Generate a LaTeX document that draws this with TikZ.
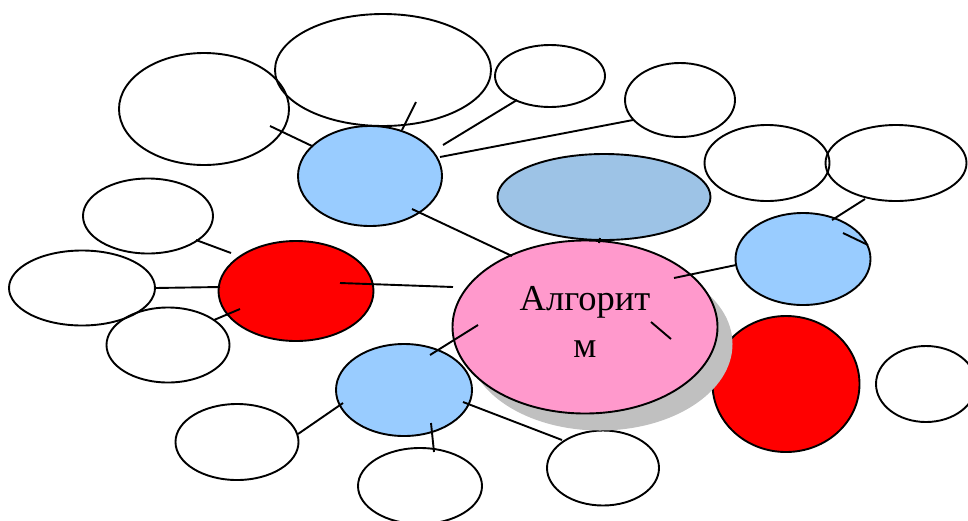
\documentclass[tikz,border=0pt]{standalone}
\usepackage{fontspec}
\setmainfont{Liberation Serif}
\usepackage{xcolor}
\usetikzlibrary{shapes.geometric,shadows,calc}
\definecolor{pinkfill}{HTML}{FF99CC}
\definecolor{bluefill}{HTML}{99CCFF}
\definecolor{greyblue}{HTML}{9DC3E6}
\definecolor{shadowgrey}{HTML}{C0C0C0}

\begin{document}
\begin{tikzpicture}[x=1pt,y=-1pt,line width=1.9pt,every node/.append style={align=center},oval/.style={ellipse, draw, inner sep=0pt},bluenode/.style={oval, fill=bluefill},rednode/.style={oval, fill=red},
  centre/.style={oval, fill=pinkfill, font=\fontsize{36.5}{47}\selectfont, drop shadow={shadow xshift=15pt, shadow yshift=-17pt, fill=shadowgrey, opacity=1}}]
    \useasboundingbox (0,0) rectangle (968,520);
    \node [oval, minimum width=170pt, minimum height=112pt] (tlbig) at (204,109) {};
    \node [oval, minimum width=216pt, minimum height=112pt] (tophuge) at (383,70) {};
    \node [oval, minimum width=110pt, minimum height=62pt] (topsm) at (550,76) {};
    \node [oval, minimum width=110pt, minimum height=74pt] (topri) at (680,100) {};
    \node [bluenode, minimum width=144pt, minimum height=100pt] (blueul) at (370,176) {};
    \node [oval, fill=greyblue, minimum width=213pt, minimum height=86pt] (theme) at (604,197) {};
    \node [oval, minimum width=125pt, minimum height=76pt] (riA) at (767,163) {};
    \node [oval, minimum width=141pt, minimum height=76pt] (riB) at (896,163) {};
    \node [bluenode, minimum width=135pt, minimum height=92pt] (blueri) at (803,259) {};
    \node [rednode, minimum width=147pt, minimum height=136pt] (redr) at (786,384) {};
    \node [oval, minimum width=100pt, minimum height=76pt] (farri) at (926,384) {};
    \node [oval, minimum width=130pt, minimum height=75pt] (lftop) at (148,216) {};
    \node [oval, minimum width=146pt, minimum height=75pt] (lfbig) at (82,288) {};
    \node [oval, minimum width=123pt, minimum height=75pt] (lflow) at (168,345) {};
    \node [rednode, minimum width=155pt, minimum height=100pt] (redl) at (296,291) {};
    \node [bluenode, minimum width=136pt, minimum height=92pt] (bluelo) at (404,390) {};
    \node [oval, minimum width=123pt, minimum height=76pt] (botl) at (237,442) {};
    \node [oval, minimum width=124pt, minimum height=76pt] (botm) at (420,486) {};
    \node [oval, minimum width=112pt, minimum height=75pt] (botr) at (603,468) {};
    \node [centre, minimum width=265pt, minimum height=173pt] (algo) at (585,327) {Алгорит\\м\rule[-10pt]{0pt}{0pt}};
    % connectors
    \draw ($(tlbig)+(66,17)$) -- ($(blueul)+(-58,-30)$);
    \draw ($(tophuge)+(33,32)$) -- ($(blueul)+(32,-46)$);
    \draw ($(topsm)+(-33,24)$) -- ($(blueul)+(73,-31)$);
    \draw ($(topri)+(-47,20)$) -- ($(blueul)+(70,-19)$);
    \draw ($(blueul)+(42,33)$) -- ($(algo)+(-73,-71)$);
    \draw ($(lftop)+(48,24)$) -- ($(redl)+(-65,-38)$);
    \draw ($(lfbig)+(73,0)$) -- ($(redl)+(-76,-4)$);
    \draw ($(lflow)+(46,-25)$) -- ($(redl)+(-56,18)$);
    \draw ($(redl)+(44,-8)$) -- ($(algo)+(-132,-40)$);
    \draw ($(algo)+(-107,-2)$) -- ($(bluelo)+(26,-35)$);
    \draw ($(bluelo)+(-61,13)$) -- ($(botl)+(61,-8)$);
    \draw ($(bluelo)+(27,33)$) -- ($(botm)+(14,-34)$);
    \draw ($(bluelo)+(59,12)$) -- ($(botr)+(-41,-28)$);
    \draw ($(algo)+(89,-49)$) -- ($(blueri)+(-67,6)$);
    \draw ($(blueri)+(29,-39)$) -- ($(riB)+(-31,36)$);
    \draw ($(blueri)+(40,-26)$) -- ($(blueri)+(65,-14)$);
    \draw ($(algo)+(66,-5)$) -- ($(algo)+(86,12)$);
    \draw ($(theme)+(-4,41)$) -- ($(theme)+(-5,46)$);
\end{tikzpicture}
\end{document}
